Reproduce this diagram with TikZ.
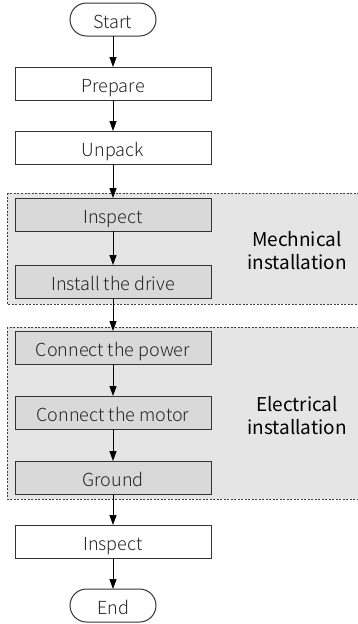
\documentclass[tikz,border=0pt]{standalone}
\usepackage{fontspec}
\setmainfont{Noto Sans CJK SC Light}
\newfontfamily\labelfont{Noto Sans CJK SC}
\usetikzlibrary{positioning,arrows.meta,backgrounds,calc}

\begin{document}
\begin{tikzpicture}[x=1pt, y=1pt,
  box/.style={draw=black!80, line width=1pt, outer sep=0pt, minimum width=196pt, minimum height=33pt,
    inner sep=0pt, text height=17pt, text depth=0pt, text=black!85, font=\fontsize{18}{21}\selectfont},
  shaded/.style={box, fill=black!15},
  term/.style={box, minimum width=86pt, rounded corners=16.5pt},
  arrow/.style={-{Triangle[length=10pt,width=7pt]}, line width=1pt},
  group/.style={draw=black!75, dash pattern=on 2pt off 1.5pt, line width=0.8pt, fill=black!10},
  grouplabel/.style={align=center, font=\labelfont\fontsize{19}{23}\selectfont}
]
\useasboundingbox (0,0) rectangle (358,-624);
\coordinate (rim) at (359,0);

\node[term] (start) at (113,-19.5) {Start};
\node[box, below=31pt of start] (prepare) {Prepare};
\node[box, below=31pt of prepare] (unpack) {Unpack};
\node[shaded, below=34pt of unpack] (inspect) {Inspect};
\node[shaded, below=34pt of inspect] (install) {Install the drive};
\node[shaded, below=33pt of install] (power) {Connect the power};
\node[shaded, below=32pt of power] (motor) {Connect the motor};
\node[shaded, below=32pt of motor] (ground) {Ground};
\node[box, below=31pt of ground] (check) {Inspect};
\node[term, below=31pt of check] (end) {End};

% group labels
\node[grouplabel] (mechlabel) at ($(inspect)!0.5!(install)+(184,-3)$) {Mechnical\\installation};
\node[grouplabel] (eleclabel) at ($(motor)+(184,-3)$) {Electrical\\installation};

% dashed groups
\begin{scope}[on background layer]
  \coordinate (mechtop) at ([xshift=-8pt,yshift=5pt]inspect.north west);
  \coordinate (mechbot) at ([yshift=-6pt]install.south);
  \coordinate (electop) at ([xshift=-8pt,yshift=4pt]power.north west);
  \coordinate (elecbot) at ([yshift=-5pt]ground.south);
  \path[group] (mechtop) rectangle (mechbot -| rim);
  \path[group] (electop) rectangle (elecbot -| rim);
\end{scope}

\draw[arrow] (start) -- (prepare);
\draw[arrow] (prepare) -- (unpack);
\draw[arrow] (unpack) -- (inspect);
\draw[arrow] (inspect) -- (install);
\draw[arrow] (install) -- (power);
\draw[arrow] (power) -- (motor);
\draw[arrow] (motor) -- (ground);
\draw[arrow] (ground) -- (check);
\draw[arrow] (check) -- (end);
\end{tikzpicture}
\end{document}
